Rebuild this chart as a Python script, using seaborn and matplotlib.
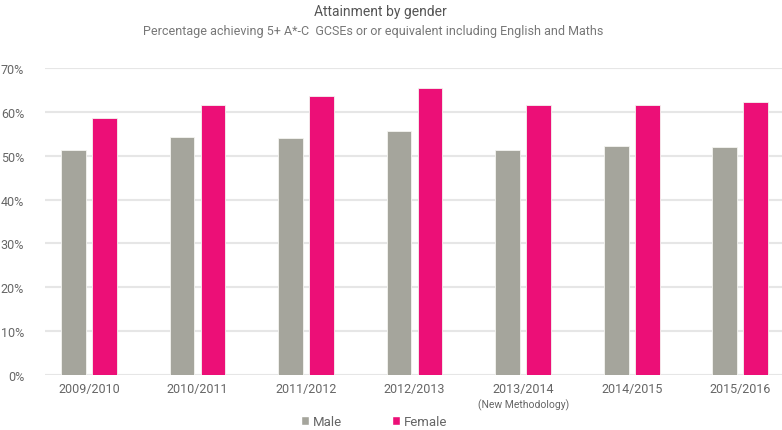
import matplotlib
matplotlib.use('Agg')
import matplotlib.pyplot as plt
import matplotlib.transforms as mtransforms
import pandas as pd
import seaborn as sns
from matplotlib.patches import Patch

years = ['2009/2010', '2010/2011', '2011/2012', '2012/2013',
         '2013/2014', '2014/2015', '2015/2016']
year_notes = {'2013/2014': '(New Methodology)'}
male = [51.3, 54.3, 54.0, 55.6, 51.3, 52.3, 52.1]
female = [58.5, 61.6, 63.6, 65.5, 61.6, 61.6, 62.2]
genders = ['Male', 'Female']
colors = ['#a5a59c', '#ec0f77']

df = pd.DataFrame({'year': years * 2,
                   'gender': ['Male'] * len(years) + ['Female'] * len(years),
                   'value': male + female})

sns.set_style('white')
plt.rcParams['font.family'] = ['Roboto', 'DejaVu Sans']

fig = plt.figure(figsize=(7.82, 4.31), dpi=100)
ax = fig.add_axes([45 / 782, 1 - 376 / 431, 1 - 45 / 782, (376 - 69) / 431])

sns.barplot(data=df, x='year', y='value', hue='gender', order=years,
            hue_order=genders, palette=colors, saturation=1, width=0.57,
            gap=0.2, edgecolor='#f4f4f0', linewidth=0.6, ax=ax, legend=False,
            zorder=3)

ax.set_ylim(0, 70)
ax.set_xlim(-0.405, 6.385)
ax.set_yticks(range(0, 71, 10))
ax.set_yticklabels([f'{v}%' for v in range(0, 71, 10)])
ax.grid(axis='y', color='#e6e6e6', linewidth=1.5, zorder=0)
ax.set_axisbelow(True)
for s in ax.spines.values():
    s.set_visible(False)
ax.tick_params(axis='y', length=0, pad=15, labelsize=9, labelcolor='#666666')
ax.tick_params(axis='x', length=0, pad=5, labelsize=9, labelcolor='#666666')
ax.set_xlabel('')
ax.set_ylabel('')

# note under a tick label
trans = mtransforms.blended_transform_factory(ax.transData, fig.transFigure)
for i, y in enumerate(years):
    if y in year_notes:
        ax.text(i, 1 - 405 / 431, year_notes[y], transform=trans, ha='center',
                va='center', fontsize=7.5, color='#666666')

fig.text(0.486, 0.972, 'Attainment by gender', ha='center', va='center',
         fontsize=10, color='#555555')
fig.text(0.477, 0.928,
         'Percentage achieving 5+ A*-C  GCSEs or or equivalent including English and Maths',
         ha='center', va='center', fontsize=9, color='#777777')

handles = [Patch(facecolor=c, label=g) for c, g in zip(colors, genders)]
fig.legend(handles=handles, loc='center', bbox_to_anchor=(0.478, 0.019),
           ncol=2, frameon=False, fontsize=9.5, handlelength=0.6,
           handleheight=0.6, handletextpad=0.3, columnspacing=3.8,
           labelcolor='#666666')

fig.savefig('out.png', dpi=100)
